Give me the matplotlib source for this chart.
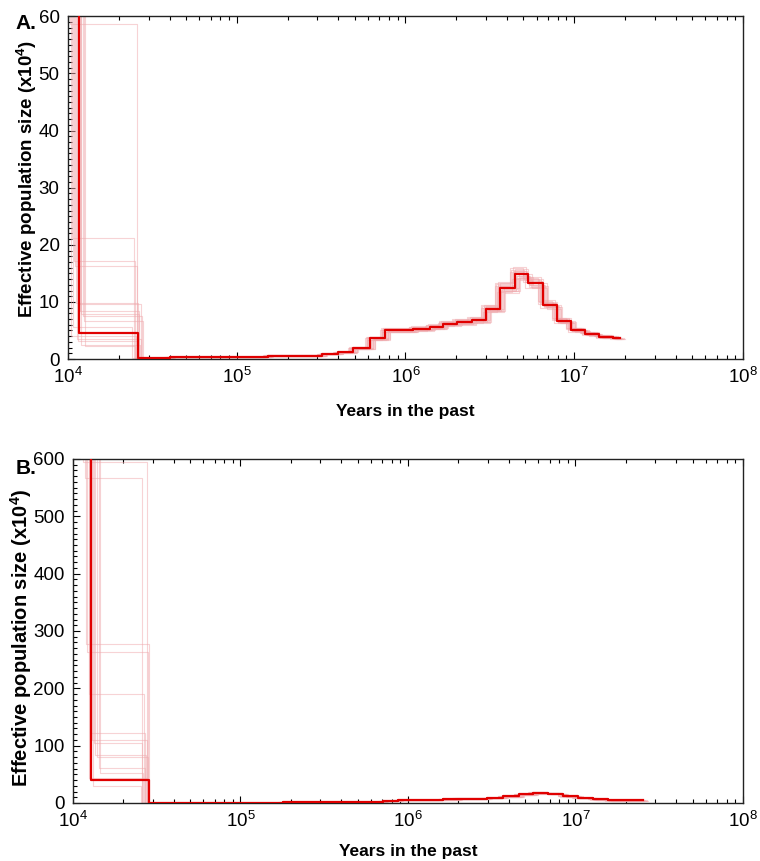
import matplotlib
matplotlib.use("Agg")
import matplotlib.pyplot as plt
from matplotlib.ticker import MultipleLocator, LogLocator, FixedLocator, NullFormatter

plt.rcParams['font.family'] = ['Liberation Sans', 'DejaVu Sans']
plt.rcParams['mathtext.fontset'] = 'custom'
plt.rcParams['mathtext.rm'] = 'Liberation Sans'
plt.rcParams['mathtext.it'] = 'Liberation Sans:italic'
plt.rcParams['mathtext.bf'] = 'Liberation Sans:bold'

# ---------------- Panel A data (years, Ne x10^4) ----------------
a_times = [5e3, 1.16e4, 2.6e4, 4.0e4, 1.2e5, 1.53e5, 3.2e5, 4.0e5, 4.9e5, 6.2e5, 7.6e5,
           1.11e6, 1.4e6, 1.67e6, 2.02e6, 2.48e6, 3.0e6, 3.63e6, 4.46e6, 5.32e6, 6.53e6,
           7.91e6, 9.57e6, 1.16e7, 1.4e7, 1.7e7]
a_values = [300, 4.5, 0.2, 0.3, 0.4, 0.6, 0.9, 1.2, 1.9, 3.6, 5.0,
            5.3, 5.6, 6.2, 6.5, 6.8, 8.8, 12.5, 14.9, 13.3, 9.5,
            6.7, 5.1, 4.4, 3.9, 3.7]
a_end = 1.87e7

# bootstrap replicates of panel A: early step change time, second value, its end time,
# and scale factors on value and time for the remaining curve
a_boot_t1 = [1.03e4, 1.05e4, 1.08e4, 1.10e4, 1.12e4, 1.14e4, 1.17e4, 1.20e4,
             1.22e4, 1.25e4, 1.07e4, 1.15e4, 1.19e4, 1.04e4, 1.13e4, 1.26e4]
a_boot_v2 = [58.6, 21.2, 17.2, 16.3, 9.8, 9.6, 8.4, 7.8, 7.5, 6.6, 5.6, 3.1, 2.5, 4.0, 3.5, 2.2]
a_boot_t2 = [2.56e4, 2.45e4, 2.50e4, 2.55e4, 2.60e4, 2.70e4, 2.65e4, 2.62e4,
             2.75e4, 2.80e4, 2.40e4, 2.58e4, 2.68e4, 2.52e4, 2.72e4, 2.48e4]
a_boot_vs = [1.05, 0.95, 1.08, 0.93, 1.02, 0.97, 1.06, 0.94, 1.00, 1.04, 0.96, 1.07, 0.98, 1.03, 0.95, 1.01]
a_boot_ts = [0.95, 1.04, 0.97, 1.06, 0.93, 1.02, 1.00, 0.96, 1.05, 0.98, 1.07, 0.94, 1.03, 0.99, 1.01, 0.96]

# ---------------- Panel B data ----------------
b_times = [5e3, 1.28e4, 2.83e4, 1.8e5, 3.6e5, 7.1e5, 8.7e5, 1.62e6, 1.96e6, 2.96e6,
           3.69e6, 4.6e6, 5.57e6, 6.85e6, 8.41e6, 1.03e7, 1.27e7, 1.56e7]
b_values = [3000, 40, 0.6, 1.0, 2.0, 3.5, 4.8, 6.2, 7.5, 8.7,
            11.5, 15.0, 17.5, 16.5, 11.8, 8.4, 6.1, 4.4]
b_end = 2.53e7

b_boot_t1 = [1.15e4, 1.18e4, 1.20e4, 1.22e4, 1.25e4, 1.27e4, 1.30e4, 1.33e4,
             1.36e4, 1.40e4, 1.43e4, 1.45e4, 1.24e4, 1.31e4]
b_boot_v2 = [595, 567, 277, 263, 190, 122, 110, 105, 84, 80, 61, 53, 43, 30]
b_boot_t2 = [2.75e4, 2.60e4, 2.85e4, 2.80e4, 2.65e4, 2.70e4, 2.78e4, 2.58e4,
             2.72e4, 2.82e4, 2.68e4, 2.62e4, 2.76e4, 2.55e4]
b_boot_vs = [1.05, 0.95, 1.08, 0.93, 1.02, 0.97, 1.06, 0.94, 1.00, 1.04, 0.96, 1.07, 0.98, 1.03]
b_boot_ts = [0.95, 1.04, 0.97, 1.06, 0.93, 1.02, 1.00, 0.96, 1.05, 0.98, 1.07, 0.94, 1.03, 0.99]

x_ticks = [1e4, 1e5, 1e6, 1e7, 1e8]
x_labels = ['$10^4$', '$10^5$', '$10^6$', '$10^7$', '$10^8$']

MAIN = '#e00000'
BOOT = '#f0a8ac'


def steps(times, values, end):
    xs, ys = [], []
    for i, (t, v) in enumerate(zip(times, values)):
        t_next = times[i + 1] if i + 1 < len(times) else end
        xs += [t, t_next]
        ys += [v, v]
    return xs, ys


def draw(ax, times, values, end, t1s, v2s, t2s, vss, tss, top, xpad, ylab_x, ylab_y, ylab_fs):
    for t1, v2, t2, vs, ts in zip(t1s, v2s, t2s, vss, tss):
        bt = [times[0], t1, t2] + [t * ts for t in times[3:]]
        bv = [values[0], v2, values[2] * vs] + [v * vs for v in values[3:]]
        xs, ys = steps(bt, bv, end * ts)
        ax.plot(xs, ys, color=BOOT, lw=0.8, alpha=0.5, zorder=2)
    xs, ys = steps(times, values, end)
    ax.plot(xs, ys, color=MAIN, lw=1.6, zorder=3)
    ax.set_xscale('log')
    ax.set_xlim(1e4, 1e8)
    ax.set_ylim(0, top)
    ax.xaxis.set_major_locator(FixedLocator(x_ticks))
    ax.set_xticklabels(x_labels)
    ax.xaxis.set_minor_locator(LogLocator(base=10, subs=range(2, 10)))
    ax.xaxis.set_minor_formatter(NullFormatter())
    ax.tick_params(axis='x', which='both', direction='in', top=True, bottom=True, labelsize=13.5, pad=6)
    ax.tick_params(axis='y', which='both', direction='in', left=True, right=False, labelsize=13.5, pad=6)
    ax.tick_params(which='major', length=5, width=0.8)
    ax.tick_params(which='minor', length=3, width=0.8)
    for s in ax.spines.values():
        s.set_linewidth(1.0)
        s.set_color('#222222')
    ax.set_xlabel('Years in the past', fontsize=12.5, fontweight='bold', labelpad=xpad)
    ax.set_ylabel('Effective population size (x10$^{\\mathbf{4}}$)', fontsize=ylab_fs,
                  fontweight='bold')
    ax.yaxis.set_label_coords(ylab_x, ylab_y)


fig = plt.figure(figsize=(7.6, 8.61), dpi=100)
axA = fig.add_axes([0.0895, 0.583, 0.888, 0.398])
axB = fig.add_axes([0.096, 0.0674, 0.8816, 0.3995])

draw(axA, a_times, a_values, a_end, a_boot_t1, a_boot_v2, a_boot_t2, a_boot_vs, a_boot_ts,
     60, 12, -0.043, 0.525, 13.5)
axA.yaxis.set_major_locator(MultipleLocator(10))
axA.yaxis.set_minor_locator(MultipleLocator(1))

draw(axB, b_times, b_values, b_end, b_boot_t1, b_boot_v2, b_boot_t2, b_boot_vs, b_boot_ts,
     600, 9, -0.058, 0.48, 14.5)
axB.yaxis.set_major_locator(MultipleLocator(100))
axB.yaxis.set_minor_locator(MultipleLocator(10))

fig.text(0.02, 0.966, 'A.', fontsize=15, fontweight='bold')
fig.text(0.02, 0.449, 'B.', fontsize=15, fontweight='bold')

fig.savefig('out.png', dpi=100)
